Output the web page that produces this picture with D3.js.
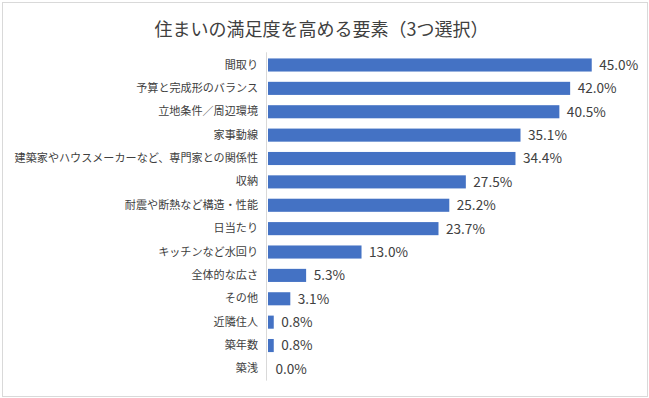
<!DOCTYPE html>
<html>
<head>
<meta charset="utf-8">
<script src="https://cdn.jsdelivr.net/npm/d3@7"></script>
<style>
  body { margin: 0; background: #fff; }
  text { font-family: "Noto Sans CJK JP", "Noto Sans", sans-serif; }
</style>
</head>
<body>
<div id="chart"></div>
<script>
// chart data
const categories = ["間取り", "予算と完成形のバランス", "立地条件／周辺環境", "家事動線",
  "建築家やハウスメーカーなど、専門家との関係性", "収納", "耐震や断熱など構造・性能", "日当たり",
  "キッチンなど水回り", "全体的な広さ", "その他", "近隣住人", "築年数", "築浅"];
const values = [45.0, 42.0, 40.5, 35.1, 34.4, 27.5, 25.2, 23.7, 13.0, 5.3, 3.1, 0.8, 0.8, 0.0];
const title = "住まいの満足度を高める要素（3つ選択）";

const W = 649, H = 398;
const svg = d3.select("#chart").append("svg")
  .attr("width", W).attr("height", H);

// outer chart frame
svg.append("rect")
  .attr("x", 2.5).attr("y", 2.5)
  .attr("width", W - 4).attr("height", H - 4)
  .attr("fill", "#fff").attr("stroke", "#d9d9d9");

svg.append("text")
  .attr("x", 321.5).attr("y", 30)
  .attr("dy", "0.35em")
  .attr("text-anchor", "middle")
  .attr("fill", "#404040")
  .style("font-size", "18px")
  .text(title);

const x = d3.scaleLinear().domain([0, 50]).range([268, 627.7]);
const y = d3.scaleBand().domain(categories)
  .range([53.3, 380.6]).paddingInner(0.44).paddingOuter(0.22);

//bars
svg.selectAll(".bar")
  .data(values)
  .enter().append("rect")
  .attr("class", "bar")
  .attr("x", x(0))
  .attr("y", (d, i) => y(categories[i]))
  .attr("width", d => x(d) - x(0))
  .attr("height", y.bandwidth())
  .attr("fill", "#4472c4");

// category axis
const axis = svg.append("g")
  .attr("transform", "translate(" + (x(0) - 1.5) + ",0)")
  .call(d3.axisLeft(y).tickSize(0).tickPadding(8.5));
axis.select(".domain")
  .attr("stroke", "#d9d9d9")
  .attr("d", "M0," + (y.range()[0] - 1) + "V" + y.range()[1]);
axis.selectAll("text")
  .attr("fill", "#404040")
  .style("font-size", "11.1px");

// value labels
svg.selectAll(".val")
  .data(values)
  .enter().append("text")
  .attr("class", "val")
  .attr("x", d => x(d) + 7.5)
  .attr("y", (d, i) => y(categories[i]) + y.bandwidth() / 2)
  .attr("dy", "0.36em")
  .attr("fill", "#404040")
  .style("font-size", "13.6px")
  .text(d => d.toFixed(1) + "%");
</script>
</body>
</html>
